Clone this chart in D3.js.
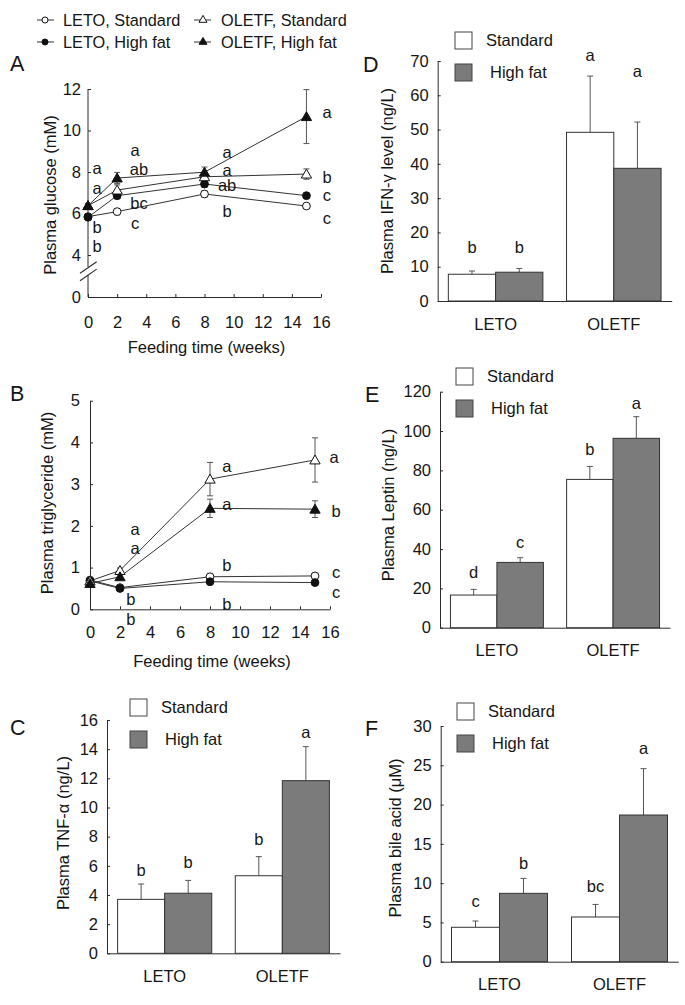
<!DOCTYPE html>
<html><head><meta charset="utf-8">
<script src="https://cdn.jsdelivr.net/npm/d3@7"></script>
<style>
body{margin:0;background:#fff}
text{font-family:"Liberation Sans",Arial,sans-serif;fill:#151515}
</style>
</head><body>
<svg id="c" width="685" height="1005"></svg>
<script>
// ---------------- DATA ----------------
const weeks = [0, 2, 8, 15];
const seriesNames = ["LETO, Standard", "LETO, High fat", "OLETF, Standard", "OLETF, High fat"];

// Panel A: plasma glucose (mM)
const glucoseLetoStd = [5.85, 6.09, 6.94, 6.36];
const glucoseLetoStdErr = [0.1, 0.15, 0.15, 0.1];
const glucoseLetoHF = [5.82, 6.86, 7.42, 6.86];
const glucoseLetoHFErr = [0.1, 0.15, 0.15, 0.1];
const glucoseOletfStd = [6.38, 7.13, 7.77, 7.9];
const glucoseOletfStdErr = [0.1, 0.25, 0.2, 0.25];
const glucoseOletfHF = [6.38, 7.71, 7.99, 10.67];
const glucoseOletfHFErr = [0.1, 0.27, 0.25, 1.3];
const glucoseTicks = [0, 4, 6, 8, 10, 12];
const glucoseLetters = ["a", "a", "b", "b", "a", "ab", "bc", "c", "a", "a", "ab", "b", "a", "b", "c", "c"];
const glucoseLetterX = [0.62, 0.62, 0.62, 0.62, 3.23, 3.5, 3.5, 3.23, 9.55, 9.55, 9.55, 9.55, 16.41, 16.41, 16.41, 16.41];
const glucoseLetterY = [8.19, 7.23, 5.35, 4.43, 9.06, 8.14, 6.51, 5.54, 8.95, 8.08, 7.38, 6.12, 10.89, 7.76, 6.89, 5.78];

// Panel B: plasma triglyceride (mM)
const tgLetoStd = [0.7, 0.52, 0.78, 0.8];
const tgLetoStdErr = [0.05, 0.04, 0.05, 0.05];
const tgLetoHF = [0.68, 0.5, 0.66, 0.64];
const tgLetoHFErr = [0.05, 0.04, 0.05, 0.05];
const tgOletfStd = [0.68, 0.93, 3.12, 3.58];
const tgOletfStdErr = [0.05, 0.06, 0.4, 0.53];
const tgOletfHF = [0.62, 0.78, 2.42, 2.4];
const tgOletfHFErr = [0.05, 0.06, 0.22, 0.2];
const tgTicks = [0, 1, 2, 3, 4, 5];
const tgLetters = ["a", "a", "b", "b", "a", "a", "b", "b", "a", "b", "c", "c"];
const tgLetterX = [3.0, 3.0, 2.73, 2.73, 9.13, 9.13, 9.13, 9.13, 16.27, 16.4, 16.4, 16.4];
const tgLetterY = [1.93, 1.47, 0.25, -0.23, 3.44, 2.53, 1.06, 0.13, 3.65, 2.36, 0.89, 0.41];

const xTicks = [0, 2, 4, 6, 8, 10, 12, 14, 16];

// Bar panels
const strains = ["LETO", "OLETF"];
const diets = ["Standard", "High fat"];

// C: TNF-alpha (ng/L)  order: LETO Std, LETO HF, OLETF Std, OLETF HF
const tnfValues = [3.7, 4.12, 5.32, 11.84];
const tnfErr = [1.05, 0.88, 1.31, 2.33];
const tnfLetters = ["b", "b", "b", "a"];
const tnfLetterY = [5.71, 6.26, 7.84, 15.18];

// D: IFN-gamma (ng/L)
const ifnValues = [7.8, 8.4, 49.2, 38.7];
const ifnErr = [0.95, 1.1, 16.4, 13.5];
const ifnLetters = ["b", "b", "a", "a"];
const ifnLetterY = [15.8, 15.8, 71.7, 66.9];

// E: Leptin (ng/L)
const leptinValues = [16.6, 33.2, 75.4, 96.3];
const leptinErr = [2.9, 2.4, 6.6, 11.0];
const leptinLetters = ["d", "c", "b", "a"];
const leptinLetterY = [28.0, 43.6, 90.7, 114.1];

// F: bile acid (uM)
const bileValues = [4.38, 8.7, 5.69, 18.67];
const bileErr = [0.8, 1.9, 1.6, 5.9];
const bileLetters = ["c", "b", "bc", "a"];
const bileLetterY = [7.64, 12.52, 9.63, 27.16];

// ---------------- DRAWING ----------------
const svg = d3.select("#c");
const INK = "#2b2b2b";
const GRAY = "#7b7b7b";
const FS = 16.5;

function txt(g, x, y, s, opts = {}) {
  const t = g.append("text").attr("x", x).attr("y", y).text(s)
    .attr("font-size", opts.size || FS)
    .attr("text-anchor", opts.anchor || "middle");
  if (opts.dy) t.attr("dy", opts.dy);
  return t;
}

function styleAxis(g) {
  g.selectAll("path.domain").attr("stroke", INK).attr("stroke-width", 1);
  g.selectAll(".tick line").attr("stroke", INK).attr("stroke-width", 1);
  g.selectAll(".tick text").attr("font-size", FS).attr("fill", "#151515")
    .attr("font-family", '"Liberation Sans",Arial,sans-serif');
}

function yTitle(cx, cy, s) {
  svg.append("text").attr("transform", `translate(${cx},${cy}) rotate(-90)`)
    .attr("text-anchor", "middle").attr("dy", "0.35em").attr("font-size", FS).text(s);
}

const markerDefs = [
  { type: d3.symbolCircle, fill: "#fff", size: 48 },
  { type: d3.symbolCircle, fill: "#111", size: 48 },
  { type: d3.symbolTriangle, fill: "#fff", size: 46 },
  { type: d3.symbolTriangle, fill: "#111", size: 46 }
];

function linePanel(cfg) {
  const g = svg.append("g");
  const x = cfg.x, y = cfg.y;
  const ax = g.append("g").attr("transform", `translate(0,${y(0)})`)
    .call(d3.axisBottom(x).tickValues(xTicks).tickFormat(d3.format("d")).tickSizeInner(-3).tickSizeOuter(0).tickPadding(cfg.xPad));
  styleAxis(ax);
  ax.selectAll(".tick text").attr("dy", "0.71em");
  const ay = g.append("g").attr("transform", `translate(${x(0)},0)`)
    .call(d3.axisLeft(y).tickValues(cfg.yTicks).tickFormat(d3.format("d")).tickSizeInner(-3).tickSizeOuter(0).tickPadding(cfg.yPad));
  styleAxis(ay);
  if (cfg.brk) {
    ay.select("path.domain").remove();
    const b = y(4);
    ay.append("line").attr("x1", 0).attr("x2", 0).attr("y1", y(12)).attr("y2", b + 12).attr("stroke", INK);
    ay.append("line").attr("x1", 0).attr("x2", 0).attr("y1", b + 20).attr("y2", y(0)).attr("stroke", INK);
    [0, 7.4].forEach(o => {
      ay.append("line").attr("x1", -8).attr("y1", b + 18.3 + o).attr("x2", 8.7).attr("y2", b + 6.7 + o)
        .attr("stroke", INK).attr("stroke-width", 1.1);
    });
  }
  const line = d3.line().x((d, i) => x(weeks[i])).y(d => y(d));
  cfg.series.forEach(s => {
    g.append("path").attr("d", line(s.v)).attr("fill", "none").attr("stroke", "#333").attr("stroke-width", 1);
  });
  cfg.series.forEach(s => {
    s.v.forEach((v, i) => {
      const cx = x(weeks[i]);
      const e = s.e[i];
      g.append("line").attr("x1", cx).attr("x2", cx).attr("y1", y(v + e)).attr("y2", y(v - e)).attr("stroke", "#555");
      [v + e, v - e].forEach(t => g.append("line").attr("x1", cx - 3).attr("x2", cx + 3)
        .attr("y1", y(t)).attr("y2", y(t)).attr("stroke", "#555"));
    });
  });
  cfg.series.forEach((s, si) => {
    const m = markerDefs[si];
    s.v.forEach((v, i) => {
      g.append("path").attr("d", d3.symbol().type(m.type).size(m.size)())
        .attr("transform", `translate(${x(weeks[i])},${y(v) + (m.type === d3.symbolTriangle ? 1 : 0)})`)
        .attr("fill", m.fill).attr("stroke", "#111").attr("stroke-width", 1);
    });
  });
  cfg.letters.forEach((l, i) => {
    txt(g, x(cfg.letterX[i]), y(cfg.letterY[i]), l, { dy: "0.35em" });
  });
  txt(g, (x(0) + x(16)) / 2 + 2, y(0) + cfg.titleOff, "Feeding time (weeks)", { dy: "0.35em" });
  yTitle(cfg.yTitleX, cfg.yTitleY, cfg.yTitle);
  txt(g, 10, cfg.labelY, cfg.label, { size: 21.5, anchor: "start" });
}

const legend = svg.append("g");
seriesNames.forEach((n, i) => {
  const col = i >= 2 ? 1 : 0, row = i % 2;
  const lx = col ? 194 : 37, mx = col ? 203 : 45, tx = col ? 221 : 63;
  const ly = row ? 42 : 20;
  legend.append("line").attr("x1", lx).attr("x2", lx + 17).attr("y1", ly).attr("y2", ly).attr("stroke", "#333");
  const m = markerDefs[i];
  legend.append("path").attr("d", d3.symbol().type(m.type).size(m.size * 0.6)())
    .attr("transform", `translate(${mx},${ly})`).attr("fill", m.fill).attr("stroke", "#111");
  txt(legend, tx, ly, n, { anchor: "start", dy: "0.35em", size: 16.3 });
});

linePanel({
  x: d3.scaleLinear().domain([0, 16]).range([88, 321]),
  y: d3.scaleLinear().domain([0, 4, 12]).range([297, 255, 89]),
  yTicks: glucoseTicks, brk: true, xPad: 19, yPad: 7,
  series: [
    { v: glucoseLetoStd, e: glucoseLetoStdErr },
    { v: glucoseLetoHF, e: glucoseLetoHFErr },
    { v: glucoseOletfStd, e: glucoseOletfStdErr },
    { v: glucoseOletfHF, e: glucoseOletfHFErr }
  ],
  letters: glucoseLetters, letterX: glucoseLetterX, letterY: glucoseLetterY,
  titleOff: 50, yTitle: "Plasma glucose (mM)", yTitleX: 50, yTitleY: 195,
  label: "A", labelY: 71
});

linePanel({
  x: d3.scaleLinear().domain([0, 16]).range([90, 330]),
  y: d3.scaleLinear().domain([0, 5]).range([609.3, 400.7]),
  yTicks: tgTicks, brk: false, xPad: 17, yPad: 10,
  series: [
    { v: tgLetoStd, e: tgLetoStdErr },
    { v: tgLetoHF, e: tgLetoHFErr },
    { v: tgOletfStd, e: tgOletfStdErr },
    { v: tgOletfHF, e: tgOletfHFErr }
  ],
  letters: tgLetters, letterX: tgLetterX, letterY: tgLetterY,
  titleOff: 52, yTitle: "Plasma triglyceride (mM)", yTitleX: 47, yTitleY: 503,
  label: "B", labelY: 401
});

function barPanel(cfg) {
  const g = svg.append("g");
  const xb = d3.scaleBand().domain(strains).range(cfg.xr).paddingInner(0.2).paddingOuter(0.09);
  const xi = d3.scaleBand().domain(diets).range([0, xb.bandwidth()]);
  const y = d3.scaleLinear().domain([0, cfg.max]).range(cfg.yr);
  const ax = g.append("g").attr("transform", `translate(0,${y(0)})`)
    .call(d3.axisBottom(xb).tickSize(0).tickPadding(17));
  styleAxis(ax);
  ax.selectAll(".tick text").attr("dy", "0.71em");
  const ay = g.append("g").attr("transform", `translate(${cfg.xr[0]},0)`)
    .call(d3.axisLeft(y).tickValues(d3.range(0, cfg.max + 0.001, cfg.step)).tickFormat(d3.format("d"))
      .tickSizeInner(-3).tickSizeOuter(0).tickPadding(9));
  styleAxis(ay);
  const rows = [];
  strains.forEach((s, si) => diets.forEach((d, di) => rows.push({ s, d, i: si * 2 + di })));
  rows.forEach(r => {
    const bx = xb(r.s) + xi(r.d), w = xi.bandwidth(), v = cfg.values[r.i], e = cfg.err[r.i];
    const cx = bx + w / 2;
    g.append("line").attr("x1", cx).attr("x2", cx).attr("y1", y(v)).attr("y2", y(v + e)).attr("stroke", "#555");
    g.append("line").attr("x1", cx - 3).attr("x2", cx + 3).attr("y1", y(v + e)).attr("y2", y(v + e)).attr("stroke", "#555");
    g.append("rect").attr("x", bx).attr("y", y(v)).attr("width", w).attr("height", y(0) - y(v))
      .attr("fill", r.d === "Standard" ? "#fff" : GRAY).attr("stroke", "#333").attr("stroke-width", 1);
    txt(g, cx, y(cfg.letterY[r.i]), cfg.letters[r.i], { dy: "0.35em" });
  });
  const lx = cfg.legX, ly = cfg.legY;
  g.append("rect").attr("x", lx).attr("y", ly).attr("width", 17).attr("height", 17).attr("fill", "#fff").attr("stroke", "#444");
  g.append("rect").attr("x", lx).attr("y", ly + 32).attr("width", 17).attr("height", 17).attr("fill", GRAY).attr("stroke", "#444");
  txt(g, lx + 31, ly + 8.5, "Standard", { anchor: "start", dy: "0.35em" });
  txt(g, lx + 35, ly + 40.5, "High fat", { anchor: "start", dy: "0.35em" });
  yTitle(cfg.yTitleX, cfg.yTitleY, cfg.yTitle);
  txt(g, cfg.labelX, cfg.labelY, cfg.label, { size: 21.5, anchor: "start" });
}

barPanel({ xr: [107, 340], yr: [953.3, 720], max: 16, step: 2, values: tnfValues, err: tnfErr,
  letters: tnfLetters, letterY: tnfLetterY, legX: 130, legY: 699,
  yTitle: "Plasma TNF-α (ng/L)", yTitleX: 63, yTitleY: 833, label: "C", labelX: 10, labelY: 735 });
barPanel({ xr: [437.7, 671.7], yr: [301, 61], max: 70, step: 10, values: ifnValues, err: ifnErr,
  letters: ifnLetters, letterY: ifnLetterY, legX: 455, legY: 32,
  yTitle: "Plasma IFN-γ level (ng/L)", yTitleX: 387, yTitleY: 181, label: "D", labelX: 363, labelY: 72 });
barPanel({ xr: [440, 670], yr: [627.7, 391.7], max: 120, step: 20, values: leptinValues, err: leptinErr,
  letters: leptinLetters, letterY: leptinLetterY, legX: 456, legY: 368,
  yTitle: "Plasma Leptin  (ng/L)", yTitleX: 388, yTitleY: 505, label: "E", labelX: 365, labelY: 402 });
barPanel({ xr: [440.7, 678.3], yr: [961.7, 726], max: 30, step: 5, values: bileValues, err: bileErr,
  letters: bileLetters, letterY: bileLetterY, legX: 457, legY: 703,
  yTitle: "Plasma bile acid (μM)", yTitleX: 395, yTitleY: 838, label: "F", labelX: 365, labelY: 736 });
</script>
</body></html>
